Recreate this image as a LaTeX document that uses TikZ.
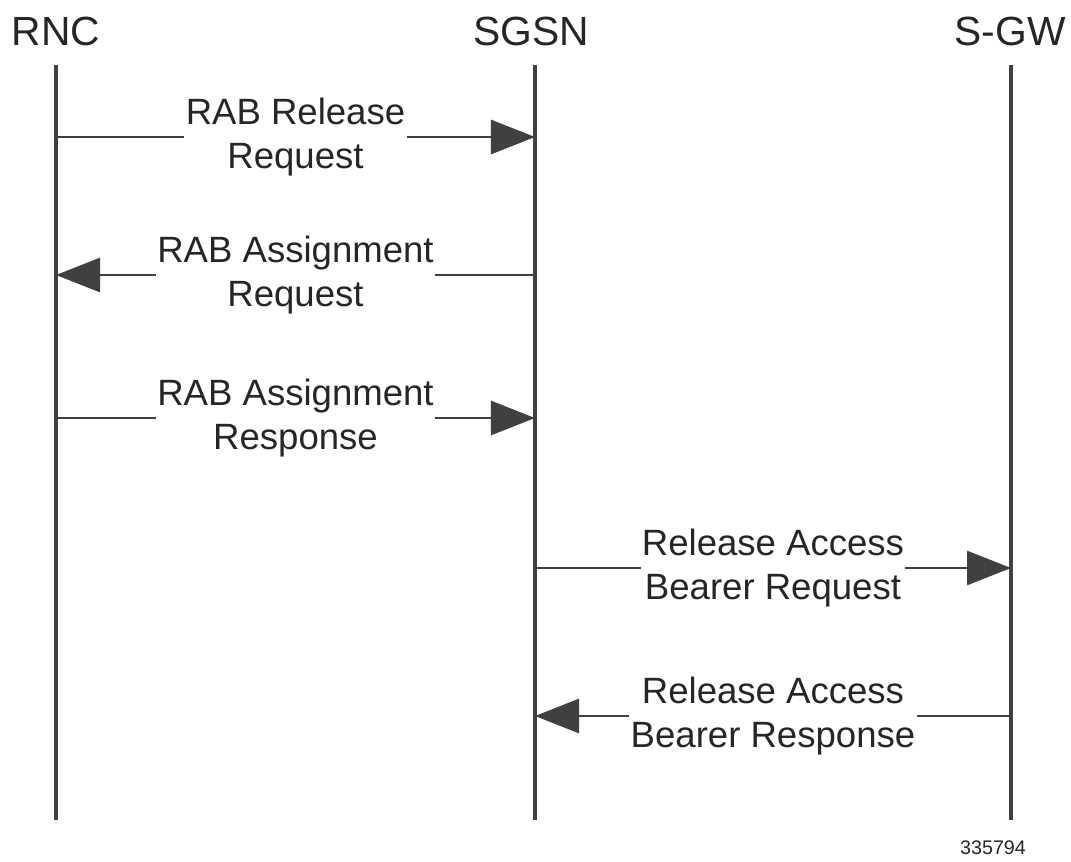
\documentclass[tikz,border=0pt]{standalone}
\usepackage{fontspec}
\setmainfont{Liberation Sans}
\usetikzlibrary{arrows.meta, positioning, calc}

\definecolor{linegray}{HTML}{404040}
\definecolor{textgray}{HTML}{262626}

\tikzset{
  head/.style={text=textgray, font=\fontsize{29pt}{34pt}\selectfont, inner sep=0pt},
  life/.style={draw=linegray, line width=2.2pt},
  msg/.style={draw=linegray, line width=2pt, -{Triangle[length=1.1cm, width=0.85cm]}},
  lbl/.style={fill=white, text=textgray, align=center, inner xsep=1pt, inner ysep=2pt,
    font=\fontsize{26pt}{31pt}\selectfont},
}

\begin{document}
\begin{tikzpicture}[x=0.025cm, y=-0.025cm]
    \useasboundingbox (0,0) rectangle (1071,861);
    % lifelines
    \node[head] (RNC) at (56,31) {RNC};
    \node[head] (SGSN) at (531,31) {SGSN};
    \node[head] (SGW) at (1010,31) {S-GW};
    \coordinate (RNCt) at (56,65);
    \coordinate (RNCb) at (56,820);
    \coordinate (SGSNt) at (535,65);
    \coordinate (SGSNb) at (535,820);
    \coordinate (SGWt) at (1011,65);
    \coordinate (SGWb) at (1011,820);
    \draw[life] (RNCt) -- (RNCb);
    \draw[life] (SGSNt) -- (SGSNb);
    \draw[life] (SGWt) -- (SGWb);

    % message end points
    \coordinate (R1) at (RNCt |- 0,137);
    \coordinate (S1) at (SGSNt |- 0,137);
    \coordinate (R2) at (RNCt |- 0,275);
    \coordinate (S2) at (SGSNt |- 0,275);
    \coordinate (R3) at (RNCt |- 0,418);
    \coordinate (S3) at (SGSNt |- 0,418);
    \coordinate (S4) at (SGSNt |- 0,568);
    \coordinate (G4) at (SGWt |- 0,568);
    \coordinate (S5) at (SGSNt |- 0,716);
    \coordinate (G5) at (SGWt |- 0,716);

    \draw[msg] (R1) -- node[lbl] (M1) {RAB Release\\Request} (S1);
    \draw[msg] (S2) -- node[lbl] (M2) {RAB Assignment\\Request} (R2);
    \draw[msg] (R3) -- node[lbl] (M3) {RAB Assignment\\Response} (S3);
    \draw[msg] (S4) -- node[lbl] (M4) {Release Access\\Bearer Request} (G4);
    \draw[msg] (G5) -- node[lbl] (M5) {Release Access\\Bearer Response} (S5);

    \node[text=textgray, font=\fontsize{14pt}{16pt}\selectfont, inner sep=0pt] (ID) at (993,848) {335794};
\end{tikzpicture}
\end{document}
